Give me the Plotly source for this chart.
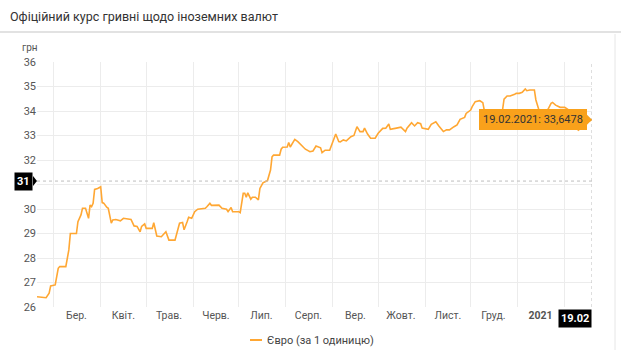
import plotly.graph_objects as go

# ---- data ----
dates = [
    "2020-02-19", "2020-02-23", "2020-02-25", "2020-02-27", "2020-02-28", "2020-03-02", "2020-03-04",
    "2020-03-05", "2020-03-09", "2020-03-11", "2020-03-12", "2020-03-16", "2020-03-17", "2020-03-19",
    "2020-03-20", "2020-03-22", "2020-03-24", "2020-03-25", "2020-03-26", "2020-03-27", "2020-03-28",
    "2020-03-30", "2020-04-01", "2020-04-02", "2020-04-03", "2020-04-05", "2020-04-06", "2020-04-08",
    "2020-04-09", "2020-04-11", "2020-04-14", "2020-04-16", "2020-04-21", "2020-04-23", "2020-04-25",
    "2020-04-27", "2020-04-28", "2020-04-30", "2020-05-01", "2020-05-05", "2020-05-06", "2020-05-08",
    "2020-05-11", "2020-05-14", "2020-05-16", "2020-05-20", "2020-05-23", "2020-05-25", "2020-05-26",
    "2020-05-28", "2020-05-29", "2020-05-31", "2020-06-02", "2020-06-04", "2020-06-09", "2020-06-10",
    "2020-06-12", "2020-06-13", "2020-06-18", "2020-06-20", "2020-06-23", "2020-06-24", "2020-06-26",
    "2020-06-27", "2020-07-01", "2020-07-02", "2020-07-04", "2020-07-05", "2020-07-06", "2020-07-07",
    "2020-07-09", "2020-07-10", "2020-07-12", "2020-07-14", "2020-07-15", "2020-07-17", "2020-07-20",
    "2020-07-22", "2020-07-23", "2020-07-24", "2020-07-28", "2020-07-29", "2020-07-30", "2020-08-02",
    "2020-08-03", "2020-08-04", "2020-08-07", "2020-08-09", "2020-08-12", "2020-08-14", "2020-08-17",
    "2020-08-19", "2020-08-21", "2020-08-24", "2020-08-25", "2020-08-27", "2020-08-30", "2020-09-01",
    "2020-09-03", "2020-09-05", "2020-09-06", "2020-09-08", "2020-09-10", "2020-09-13", "2020-09-15",
    "2020-09-17", "2020-09-19", "2020-09-21", "2020-09-22", "2020-09-24", "2020-09-26", "2020-09-29",
    "2020-10-01", "2020-10-04", "2020-10-06", "2020-10-08", "2020-10-09", "2020-10-13", "2020-10-16",
    "2020-10-19", "2020-10-20", "2020-10-23", "2020-10-25", "2020-10-27", "2020-10-29", "2020-10-30",
    "2020-11-03", "2020-11-05", "2020-11-08", "2020-11-10", "2020-11-13", "2020-11-15", "2020-11-17",
    "2020-11-20", "2020-11-22", "2020-11-24", "2020-11-27", "2020-11-28", "2020-12-01", "2020-12-02",
    "2020-12-04", "2020-12-07", "2020-12-09", "2020-12-10", "2020-12-13", "2020-12-15", "2020-12-18",
    "2020-12-20", "2020-12-22", "2020-12-23", "2020-12-25", "2020-12-27", "2020-12-30", "2020-12-31",
    "2021-01-02", "2021-01-04", "2021-01-06", "2021-01-07", "2021-01-09", "2021-01-12", "2021-01-13",
    "2021-01-15", "2021-01-20", "2021-01-21", "2021-01-23", "2021-01-24", "2021-01-26", "2021-01-29",
    "2021-02-01", "2021-02-03", "2021-02-05", "2021-02-07", "2021-02-10", "2021-02-13", "2021-02-16",
    "2021-02-19",
]
eur_rate = [
    26.42, 26.38, 26.38, 26.56, 26.86, 26.90, 27.58,
    27.65, 27.65, 28.33, 29.00, 29.00, 29.48, 29.76,
    30.03, 30.03, 29.62, 30.16, 30.10, 30.23, 30.80,
    30.84, 30.91, 30.26, 30.24, 30.07, 30.03, 29.42,
    29.55, 29.57, 29.52, 29.62, 29.57, 29.31, 29.29,
    29.07, 29.29, 29.39, 29.21, 29.21, 29.44, 28.90,
    28.87, 29.07, 28.73, 28.73, 29.42, 29.45, 29.15,
    29.48, 29.66, 29.62, 29.89, 29.99, 30.03, 30.09,
    30.23, 30.15, 30.16, 30.03, 29.99, 29.89, 30.06,
    29.89, 29.89, 29.85, 30.64, 30.64, 30.48, 30.66,
    30.40, 30.48, 30.48, 30.37, 30.84, 31.07, 31.16,
    31.59, 32.13, 32.20, 32.20, 32.44, 32.52, 32.53,
    32.71, 32.53, 32.84, 32.75, 32.54, 32.44, 32.34,
    32.37, 32.57, 32.50, 32.30, 32.40, 32.40, 32.75,
    33.06, 32.75, 32.74, 32.82, 32.78, 32.95, 33.00,
    33.36, 33.16, 33.16, 33.30, 33.06, 32.89, 32.89,
    33.09, 33.29, 33.30, 33.47, 33.25, 33.30, 33.34,
    33.16, 33.30, 33.52, 33.39, 33.52, 33.48, 33.30,
    33.25, 33.46, 33.56, 33.39, 33.16, 33.23, 33.23,
    33.36, 33.43, 33.66, 33.74, 33.90, 34.04, 34.18,
    34.38, 34.42, 34.34, 34.01, 33.93, 33.88, 33.66,
    33.90, 34.04, 34.48, 34.61, 34.61, 34.68, 34.72,
    34.72, 34.76, 34.90, 34.83, 34.86, 34.86, 34.45,
    34.04, 34.00, 34.07, 34.31, 34.35, 34.24, 34.15,
    34.15, 34.07, 33.75, 33.45, 33.22, 33.35, 33.55,
    33.6478,
]
month_starts = ["2020-03-01", "2020-04-01", "2020-05-01", "2020-06-01", "2020-07-01", "2020-08-01",
                "2020-09-01", "2020-10-01", "2020-11-01", "2020-12-01", "2021-01-01", "2021-02-01"]
label_dates = ["2020-03-16", "2020-04-16", "2020-05-16", "2020-06-16", "2020-07-16", "2020-08-16",
               "2020-09-16", "2020-10-16", "2020-11-16", "2020-12-16", "2021-01-16"]
label_text = ["Бер.", "Квіт.", "Трав.", "Черв.", "Лип.", "Серп.", "Вер.", "Жовт.", "Лист.", "Груд.",
              "<b>2021</b>"]
y_ticks = [26, 27, 28, 29, 30, 31, 32, 33, 34, 35, 36]
y_tick_text = ["26", "27", "28", "29", "30", "", "32", "33", "34", "35", "36"]  # 31 shown by cursor label

series_name = "Євро (за 1 одиницю)"
title_text = "Офіційний курс гривні щодо іноземних валют"
tooltip_text = "19.02.2021: 33,6478"
cursor_y = 31.14

ORANGE = "#ffa733"
TIP = "#f9a11b"
FONT = "Roboto"

# ---- geometry (pixels) ----
W, H = 621, 350
L, R, T, B = 37, 592, 62, 307
PW, PH = R - L, B - T


def px(x):
    return (x - L) / PW


def py(y):
    return (B - y) / PH


fig = go.Figure()
fig.add_trace(go.Scatter(
    x=dates, y=eur_rate, mode="lines", name=series_name,
    line=dict(color=ORANGE, width=1.6), showlegend=False, hoverinfo="skip",
))

fig.update_layout(
    width=W, height=H,
    margin=dict(l=L, r=W - R, t=T, b=H - B),
    paper_bgcolor="white", plot_bgcolor="white",
    font=dict(family=FONT, size=11, color="#555"),
    title=dict(text=title_text, x=10 / W, xref="container", xanchor="left",
               y=1 - 17 / H, yref="container", yanchor="middle",
               font=dict(family=FONT, size=12.5, color="#333")),
    xaxis=dict(
        type="date", range=[dates[0], dates[-1]],
        tickmode="array", tickvals=label_dates, ticktext=label_text,
        showgrid=False, zeroline=False, showline=False, ticks="",
        tickfont=dict(size=10.5, color="#555"),
        minor=dict(tickmode="array", tickvals=month_starts, showgrid=True,
                   gridcolor="#ececec", gridwidth=1, ticks=""),
    ),
    yaxis=dict(
        range=[26, 36], tickmode="array", tickvals=y_ticks, ticktext=y_tick_text,
        showgrid=True, gridcolor="#ececec", gridwidth=1,
        zeroline=False, showline=False, ticks="",
        tickfont=dict(size=11, color="#555"),
    ),
)

shapes = [
    # header separator
    dict(type="line", xref="paper", yref="paper", x0=px(0), x1=px(W), y0=py(32), y1=py(32),
         line=dict(color="#e2e2e2", width=2)),
    # right border
    dict(type="line", xref="paper", yref="paper", x0=px(615), x1=px(615), y0=py(34), y1=py(H),
         line=dict(color="#e6e6e6", width=1)),
    # crosshair lines
    dict(type="line", xref="paper", yref="y", x0=0, x1=1, y0=cursor_y, y1=cursor_y,
         line=dict(color="#bdbdbd", width=1, dash="dot")),
    dict(type="line", xref="x", yref="paper", x0=dates[-1], x1=dates[-1], y0=0, y1=1,
         line=dict(color="#bdbdbd", width=1, dash="dot")),
    # legend line
    dict(type="line", xref="paper", yref="paper", x0=px(250), x1=px(262), y0=py(340), y1=py(340),
         line=dict(color=ORANGE, width=2)),
    # arrow of y cursor label
    dict(type="path", xref="paper", yref="paper", xsizemode="pixel", ysizemode="pixel",
         xanchor=px(33), yanchor=py(181),
         path="M 0 5 L 4 0 L 0 -5 Z", fillcolor="black", line=dict(width=0)),
    # arrow of tooltip
    dict(type="path", xref="x", yref="y", xsizemode="pixel", ysizemode="pixel",
         xanchor=dates[-1], yanchor=eur_rate[-1],
         path="M -5 5 L 0 0 L -5 -5 Z", fillcolor=TIP, line=dict(width=0)),
]
fig.update_layout(shapes=shapes)

annotations = [
    dict(text="грн", xref="paper", yref="paper", x=px(20), y=py(48), xanchor="left", yanchor="middle",
         showarrow=False, font=dict(size=10, color="#555")),
    dict(text="<b>31</b>", xref="paper", yref="y", x=px(33), y=cursor_y, xanchor="right", yanchor="middle",
         showarrow=False, bgcolor="black", borderpad=2, font=dict(size=11, color="white")),
    dict(text="<b>19.02</b>", xref="x", yref="paper", x=dates[-1], y=py(318.5), xanchor="right",
         yanchor="middle", showarrow=False, bgcolor="black", borderpad=2,
         font=dict(size=11, color="white")),
    dict(text=tooltip_text, xref="x", yref="y", x=dates[-1], y=eur_rate[-1], xanchor="right",
         yanchor="middle", xshift=-5, showarrow=False, bgcolor=TIP, bordercolor=TIP, borderpad=3,
         font=dict(size=11, color="#333")),
    dict(text=series_name, xref="paper", yref="paper", x=px(265), y=py(340), xanchor="left",
         yanchor="middle", showarrow=False, font=dict(size=11, color="#444")),
]
fig.update_layout(annotations=annotations)

fig.write_html("out.html")
